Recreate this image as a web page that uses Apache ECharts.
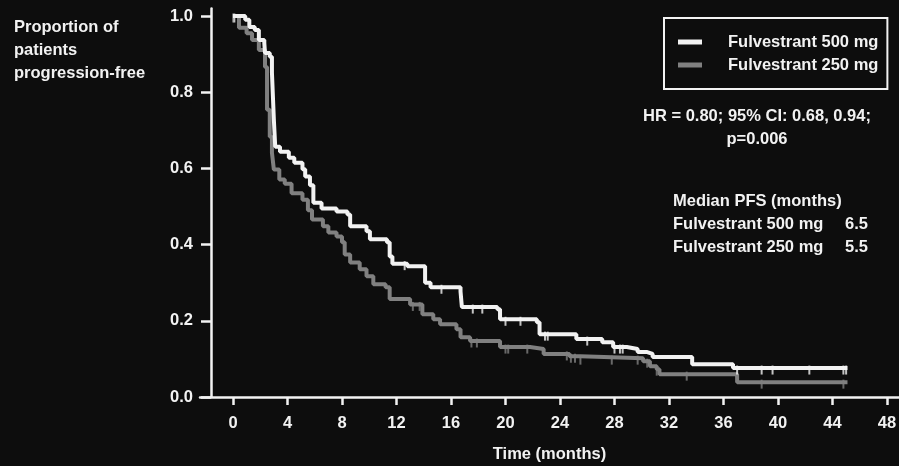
<!DOCTYPE html>
<html>
<head>
<meta charset="utf-8">
<title>Progression-free survival</title>
<script src="https://cdn.jsdelivr.net/npm/echarts@6/dist/echarts.min.js"></script>
<style>
  html, body { margin: 0; padding: 0; background: #0d0d0d; }
  #chart { width: 899px; height: 466px; }
</style>
</head>
<body>
<div id="chart"></div>
<script>
// Kaplan-Meier estimates: event times (months) and proportion progression-free after each step
const seriesNames = ['Fulvestrant 500 mg', 'Fulvestrant 250 mg'];

const months500 = [0, 0.9, 1.2, 1.6, 1.9, 2.3, 2.35, 2.7, 2.86, 3.0, 3.1, 3.45, 4.1, 4.5, 5.1, 5.3, 5.65, 5.9, 6.5, 7.6, 8.4, 8.6, 9.8, 10.05, 11.3, 11.5, 11.7, 12.8, 14.1, 14.5, 16.7, 16.8, 19.4, 19.6, 22.3, 22.5, 25.2, 27.1, 27.9, 28.9, 29.7, 30.4, 30.8, 33.7, 36.7, 45.1];
const surv500   = [1.0, 0.99, 0.971, 0.963, 0.937, 0.929, 0.903, 0.893, 0.851, 0.728, 0.657, 0.644, 0.628, 0.615, 0.598, 0.579, 0.556, 0.51, 0.495, 0.487, 0.479, 0.448, 0.435, 0.414, 0.406, 0.369, 0.35, 0.343, 0.30, 0.288, 0.277, 0.236, 0.23, 0.204, 0.196, 0.165, 0.152, 0.144, 0.131, 0.126, 0.118, 0.113, 0.105, 0.086, 0.076, 0.076];

const months250 = [0, 0.44, 1.0, 1.4, 1.9, 2.35, 2.5, 2.7, 2.86, 3.0, 3.4, 3.8, 4.3, 5.1, 5.5, 5.8, 6.6, 7.0, 7.6, 8.0, 8.2, 8.6, 9.3, 9.8, 10.3, 11.2, 11.5, 13.0, 13.9, 14.7, 15.2, 16.4, 16.7, 17.4, 19.6, 21.8, 22.8, 24.7, 25.5, 30.1, 30.6, 31.1, 31.3, 37.0, 45.1];
const surv250   = [1.0, 0.969, 0.955, 0.937, 0.911, 0.866, 0.754, 0.683, 0.641, 0.597, 0.571, 0.56, 0.535, 0.518, 0.49, 0.466, 0.448, 0.432, 0.421, 0.406, 0.374, 0.353, 0.335, 0.317, 0.296, 0.288, 0.257, 0.243, 0.217, 0.204, 0.191, 0.178, 0.157, 0.147, 0.131, 0.126, 0.113, 0.107, 0.102, 0.094, 0.081, 0.073, 0.06, 0.039, 0.039];

// Censoring times (months)
const censor500 = [0.1, 12.6, 15.3, 17.6, 18.3, 20.0, 21.1, 22.9, 23.1, 26.0, 28.0, 28.4, 28.6, 37.0, 38.8, 39.6, 42.3, 44.8, 45.0];
const censor250 = [0.0, 13.2, 13.7, 17.5, 17.9, 20.0, 20.2, 21.6, 24.5, 24.8, 25.1, 25.5, 27.8, 29.7, 30.4, 31.1, 33.3, 38.8, 44.8];

// Axis ticks
const xTicks = [0, 4, 8, 12, 16, 20, 24, 28, 32, 36, 40, 44, 48];
const yTicks = [0, 0.2, 0.4, 0.6, 0.8, 1.0];

// Summary statistics
const hrText = ['HR = 0.80; 95% CI: 0.68, 0.94;', 'p=0.006'];
const medianPFS = [6.5, 5.5];

const WHITE = '#f2f2f2';
const GREY = '#808080';
const FONT = '"Liberation Sans", Arial, sans-serif';

function pairs(xs, ys) {
  return xs.map((x, i) => [x, ys[i]]);
}

// Survival value of a step curve at time t
function stepValue(xs, ys, t) {
  let v = ys[0];
  for (let i = 0; i < xs.length; i++) {
    if (xs[i] <= t) v = ys[i];
  }
  return v;
}

function censorPoints(times, xs, ys) {
  return times.map(t => [t, stepValue(xs, ys, t)]);
}

const chart = echarts.init(document.getElementById('chart'), null, { renderer: 'canvas' });

const option = {
  backgroundColor: '#0d0d0d',
  animation: false,
  title: {
    text: 'Proportion of\npatients\nprogression-free',
    left: 14,
    top: 15.5,
    padding: 0,
    textStyle: {
      color: WHITE, fontFamily: FONT, fontWeight: 'bold',
      fontSize: 16.5, lineHeight: 23
    }
  },
  legend: {
    data: seriesNames.map((n, i) => ({ name: n, icon: 'rect', itemStyle: { color: i === 0 ? WHITE : GREY } })),
    orient: 'vertical',
    left: 664,
    top: 18,
    padding: [15, 9, 15, 14],
    itemGap: 5,
    itemWidth: 24,
    itemHeight: 5,
    borderColor: WHITE,
    borderWidth: 2,
    selectedMode: false,
    textStyle: {
      color: WHITE, fontFamily: FONT, fontWeight: 'bold', fontSize: 16.5,
      padding: [0, 0, 0, 21], lineHeight: 18
    }
  },
  grid: { left: 200, right: 0, top: 8.4, bottom: 69, outerBoundsMode: 'none', containLabel: false },
  xAxis: {
    type: 'value',
    min: -2.42,
    max: 48.88,
    name: 'Time (months)',
    nameLocation: 'middle',
    nameGap: 49,
    nameTextStyle: { color: WHITE, fontFamily: FONT, fontWeight: 'bold', fontSize: 16.5 },
    axisLine: { onZero: false, lineStyle: { color: WHITE, width: 2.5 } },
    axisTick: { show: true, customValues: xTicks, length: 8, lineStyle: { color: WHITE, width: 2.5 } },
    axisLabel: {
      customValues: xTicks, margin: 18,
      color: WHITE, fontFamily: FONT, fontWeight: 'bold', fontSize: 16.5
    },
    splitLine: { show: false }
  },
  yAxis: {
    type: 'value',
    min: 0,
    max: 1.02,
    offset: -11,
    axisLine: { show: true, onZero: false, lineStyle: { color: WHITE, width: 2.5 } },
    axisTick: { show: true, customValues: yTicks, length: 10, lineStyle: { color: WHITE, width: 2.5 } },
    axisLabel: {
      customValues: yTicks, margin: 18,
      formatter: v => v.toFixed(1),
      color: WHITE, fontFamily: FONT, fontWeight: 'bold', fontSize: 16.5
    },
    splitLine: { show: false }
  },
  series: [
    {
      name: seriesNames[1], type: 'line', step: 'end', showSymbol: false,
      data: pairs(months250, surv250),
      lineStyle: { color: GREY, width: 4 }, itemStyle: { color: GREY }, z: 2
    },
    {
      name: seriesNames[0], type: 'line', step: 'end', showSymbol: false,
      data: pairs(months500, surv500),
      lineStyle: { color: WHITE, width: 4 }, itemStyle: { color: WHITE }, z: 3
    },
    {
      name: 'censor250', type: 'scatter', symbol: 'rect', symbolSize: [2, 9], symbolOffset: [0, 2],
      data: censorPoints(censor250, months250, surv250),
      itemStyle: { color: GREY }, z: 2
    },
    {
      name: 'censor500', type: 'scatter', symbol: 'rect', symbolSize: [2, 9], symbolOffset: [0, 2],
      data: censorPoints(censor500, months500, surv500),
      itemStyle: { color: WHITE }, z: 3
    }
  ],
  graphic: [
    {
      type: 'text', left: 757 - 115, top: 105,
      style: {
        text: hrText.join('\n'), fill: WHITE, font: 'bold 16.5px ' + FONT,
        textAlign: 'center', lineHeight: 23, width: 230, align: 'center'
      }
    },
    {
      type: 'text', left: 673, top: 190,
      style: {
        text: 'Median PFS (months)\n' + seriesNames.join('\n'),
        fill: WHITE, font: 'bold 16.5px ' + FONT, lineHeight: 23
      }
    },
    {
      type: 'text', left: 845, top: 213,
      style: {
        text: medianPFS.map(v => v.toFixed(1)).join('\n'),
        fill: WHITE, font: 'bold 16.5px ' + FONT, lineHeight: 23
      }
    }
  ]
};

chart.setOption(option);
</script>
</body>
</html>
